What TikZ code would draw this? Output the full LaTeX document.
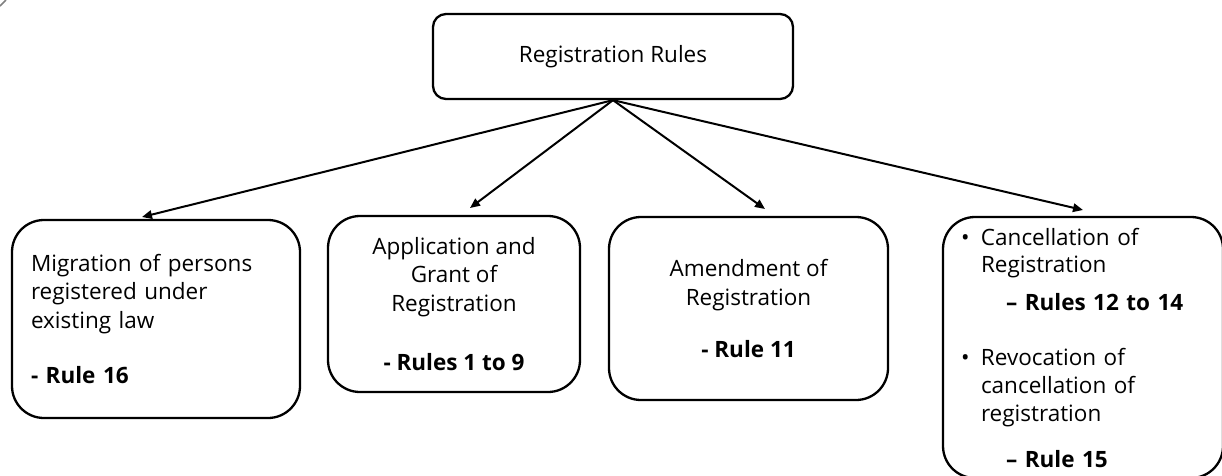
\documentclass[tikz,border=0pt]{standalone}
\usepackage{fontspec}
\setmainfont{Open Sans}
\usetikzlibrary{arrows.meta}
\begin{document}
\begin{tikzpicture}[x=1pt,y=-1pt,
  boxtext/.style={font=\fontsize{22.5}{28.5}\selectfont},
  rulebox/.style={draw, line width=2.3pt, rounded corners=32pt, inner sep=0pt, boxtext},
  headbox/.style={draw, line width=2.3pt, rounded corners=13pt, inner sep=0pt, boxtext},
  link/.style={line width=2pt, -{Triangle[length=10pt,width=8.5pt]}}
]
\useasboundingbox (0,0) rectangle (1222,475);

% corner mark
\draw[gray, line width=1.5pt] (0,6) -- (6,0);

% root
\node[headbox, minimum width=360pt, minimum height=85pt] (root) at (613,56.5) {Registration Rules};

% children
\node[rulebox, minimum width=288pt, minimum height=198pt, text width=250pt, align=left]
  (mig) at (156,319) {Migration of persons\\ registered under\\ existing law\\[27pt] \textbf{- Rule 16}};

\node[rulebox, minimum width=252pt, minimum height=176pt, align=center]
  (app) at (454,304) {Application and\\ Grant of\\ Registration\\[31pt] \textbf{- Rules 1 to 9}};

\node[rulebox, minimum width=279pt, minimum height=183pt, align=center]
  (amd) at (748.5,308.5) {Amendment of\\ Registration\\[24pt] \textbf{- Rule 11}};

\node[rulebox, minimum width=280pt, minimum height=261pt, text width=244pt, align=left]
  (can) at (1083,347.5) {\makebox[20pt][l]{\textbullet}Cancellation of\\[-1pt]
    \hspace*{20pt}Registration\\[9pt]
    \hspace*{45pt}\textbf{– Rules 12 to 14}\\[27pt]
    \makebox[20pt][l]{\textbullet}Revocation of\\[-1pt]
    \hspace*{20pt}cancellation of\\
    \hspace*{20pt}registration\\[17pt]
    \hspace*{45pt}\textbf{– Rule 15}};

% arrow ends, just above each box
\coordinate (e1) at (142,217);
\coordinate (e2) at (470,208);
\coordinate (e3) at (765,209);
\coordinate (e4) at (1083,210);

\draw[link] (root.south) -- (e1);
\draw[link] (root.south) -- (e2);
\draw[link] (root.south) -- (e3);
\draw[link] (root.south) -- (e4);
\end{tikzpicture}
\end{document}
